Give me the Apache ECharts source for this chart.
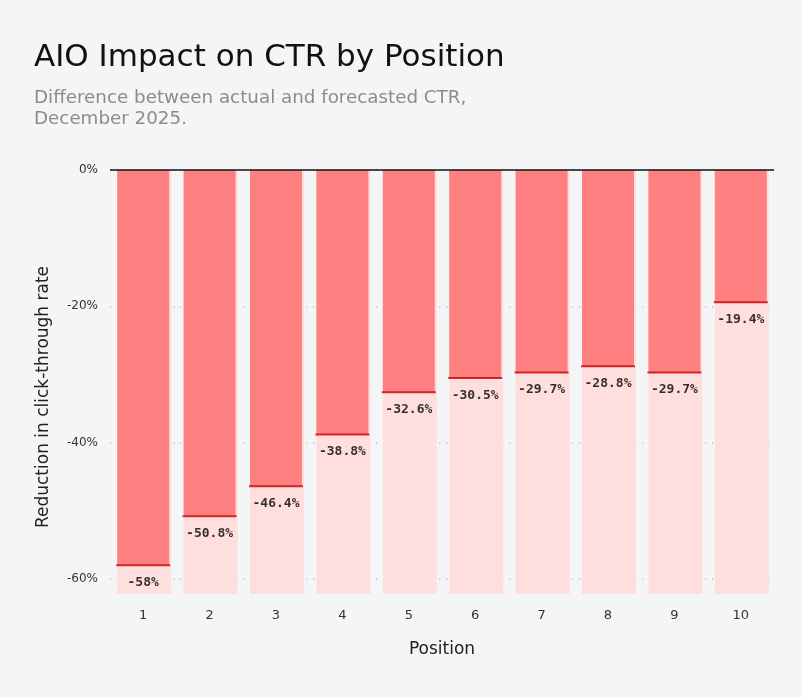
<!DOCTYPE html>
<html>
<head>
<meta charset="utf-8">
<script src="https://cdn.jsdelivr.net/npm/echarts@6/dist/echarts.min.js"></script>
<style>
  html, body { margin: 0; padding: 0; background: #f4f5f7; }
  #chart { width: 802px; height: 697px; }
</style>
</head>
<body>
<div id="chart"></div>
<script>
const positions = ['1', '2', '3', '4', '5', '6', '7', '8', '9', '10'];
const ctrChange = [-58, -50.8, -46.4, -38.8, -32.6, -30.5, -29.7, -28.8, -29.7, -19.4];
const trackFloor = [-62.2, -62.2, -62.2, -62.2, -62.2, -62.2, -62.2, -62.2, -62.2, -62.2];
const yTicks = [0, -20, -40, -60];

const chart = echarts.init(document.getElementById('chart'));

chart.setOption({
  backgroundColor: '#f4f5f7',
  animation: false,
  title: {
    text: 'AIO Impact on CTR by Position',
    subtext: 'Difference between actual and forecasted CTR,\nDecember 2025.',
    left: 29,
    top: 37,
    itemGap: 15,
    textStyle: { fontFamily: 'DejaVu Sans', fontSize: 31, fontWeight: 'normal', color: '#111' },
    subtextStyle: { fontFamily: 'DejaVu Sans', fontSize: 18.3, lineHeight: 21, color: '#8c8c8c' }
  },
  graphic: [{
    type: 'text',
    x: 44,
    y: 397,
    rotation: Math.PI / 2,
    style: {
      text: 'Reduction in click-through rate',
      font: '17px "DejaVu Sans"',
      fill: '#222',
      align: 'center',
      verticalAlign: 'middle'
    }
  }],
  grid: { left: 110, right: 28, top: 170, bottom: 118 },
  xAxis: {
    type: 'category',
    data: positions,
    name: 'Position',
    nameLocation: 'middle',
    nameGap: 62,
    nameTextStyle: { fontFamily: 'DejaVu Sans', fontSize: 17, color: '#222' },
    axisLine: { show: false },
    axisTick: { show: false },
    axisLabel: { margin: 30, fontFamily: 'DejaVu Sans', fontSize: 13, color: '#333' }
  },
  yAxis: {
    type: 'value',
    min: -60,
    max: 0,
    interval: 20,
    axisLine: { show: false },
    axisTick: { show: false },
    axisLabel: {
      margin: 12,
      fontFamily: 'DejaVu Sans',
      fontSize: 12,
      color: '#333',
      formatter: (v) => (yTicks.includes(v) ? v + '%' : '')
    },
    splitLine: { lineStyle: { color: '#c6c8cc', width: 1.5, type: [1.5, 5.5] } }
  },
  series: [
    {
      type: 'bar',
      data: trackFloor,
      barWidth: 54,
      barGap: '-100%',
      clip: false,
      silent: true,
      itemStyle: { color: '#ffdede' },
      z: 2
    },
    {
      type: 'bar',
      data: ctrChange,
      barWidth: 52,
      barGap: '-100%',
      itemStyle: { color: '#ff8080' },
      z: 3,
      markLine: {
        silent: true,
        symbol: 'none',
        label: { show: false },
        lineStyle: { color: '#111', width: 1.5, type: 'solid' },
        data: [{ yAxis: 0 }]
      }
    },
    {
      type: 'scatter',
      data: ctrChange,
      symbol: 'rect',
      symbolSize: [54, 2],
      itemStyle: { color: '#c80000' },
      z: 4,
      label: {
        show: true,
        position: 'bottom',
        distance: 10,
        fontFamily: 'DejaVu Sans Mono',
        fontWeight: 'bold',
        fontSize: 13,
        color: '#000',
        formatter: (p) => p.value + '%'
      }
    }
  ]
});
</script>
</body>
</html>
